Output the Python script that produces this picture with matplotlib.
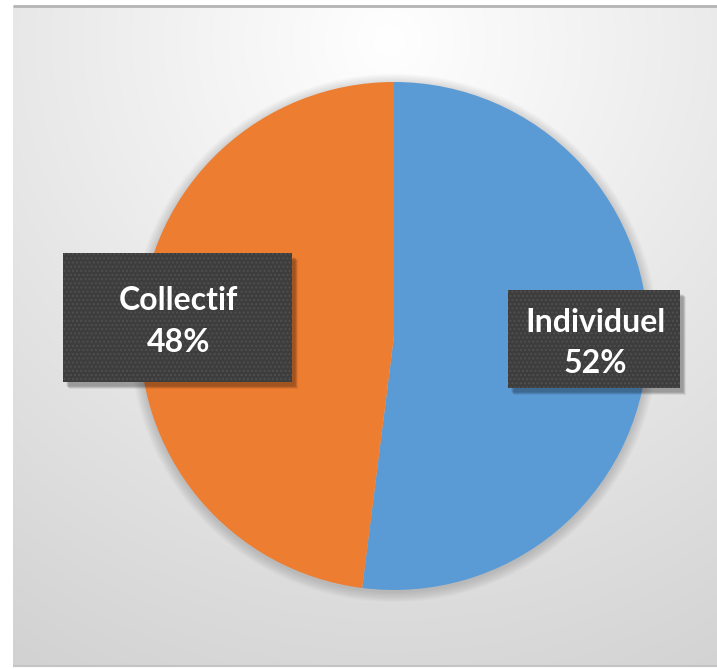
import numpy as np
import matplotlib
matplotlib.use("Agg")
import matplotlib.pyplot as plt
from matplotlib.patches import Rectangle, Circle

categories = ["Individuel", "Collectif"]
values = [52, 48]
colors = ["#5B9BD5", "#ED7D31"]

W, H = 717, 669
fig = plt.figure(figsize=(W / 100, H / 100), dpi=100)
fig.patch.set_facecolor("white")
ax = fig.add_axes([0, 0, 1, 1])

# background gradient panel (pixel coords, y up)
px0, px1 = 13, 717
py0, py1 = 3, 663
xs = np.linspace(px0, px1, 300)
ys = np.linspace(py0, py1, 300)
X, Y = np.meshgrid(xs, ys)
d = np.hypot(X - 390, Y - (H - 40))
v = np.clip(255 - 0.062 * d, 200, 255) / 255.0
img = np.dstack([v, v, v])
ax.imshow(img, extent=(px0, px1, py0, py1), origin="lower", zorder=0,
          interpolation="bilinear", aspect="auto")
ax.plot([px0, px1], [py1, py1], color="#b4b4b4", lw=2, zorder=1,
        solid_capstyle="butt")
ax.plot([px0, px1], [py0, py0], color="#c4c4c4", lw=1.5, zorder=1,
        solid_capstyle="butt")

cx, cy, r = 394, H - 336, 254
# soft shadow around pie
for i in range(8):
    ax.add_patch(Circle((cx, cy - 2), r + 1 + i * 1.3, color="black",
                        alpha=0.02, lw=0, zorder=1.5))

wedges, _ = ax.pie(values, colors=colors, startangle=90, counterclock=False,
                   center=(cx, cy), radius=r,
                   wedgeprops=dict(linewidth=0, zorder=2))
for w in wedges:
    w.set_zorder(2)

total = sum(values)
labels = [f"{c}\n{round(100 * v / total)}%" for c, v in zip(categories, values)]

# label boxes (pixel coords: x0, x1, ytop, ybottom)
boxes = [(508, 680, 290, 388), (63, 292, 253, 382)]
for (x0, x1, yt, yb), lab in zip(boxes, labels):
    bx, by, bw, bh = x0, H - yb, x1 - x0, yb - yt
    for i in range(6):
        ax.add_patch(Rectangle((bx + 3 + i * 0.6, by - 4 - i * 0.6), bw, bh,
                               facecolor="black", alpha=0.06, lw=0, zorder=3))
    ax.add_patch(Rectangle((bx, by), bw, bh, facecolor="#3d3d3d", lw=0,
                           zorder=4))
    ax.add_patch(Rectangle((bx, by), bw, bh, facecolor="none",
                           edgecolor="#4f4f4f", hatch="....", lw=0, zorder=4.5))
    ax.text(bx + bw / 2 + 1, by + bh / 2 - 4, lab, ha="center", va="center",
            color="white", fontsize=23, fontweight="bold",
            family=["Lato", "DejaVu Sans"], linespacing=1.5, zorder=5)

ax.set_xlim(0, W)
ax.set_ylim(0, H)
ax.set_aspect("auto")
ax.axis("off")

fig.savefig("out.png", dpi=100)
